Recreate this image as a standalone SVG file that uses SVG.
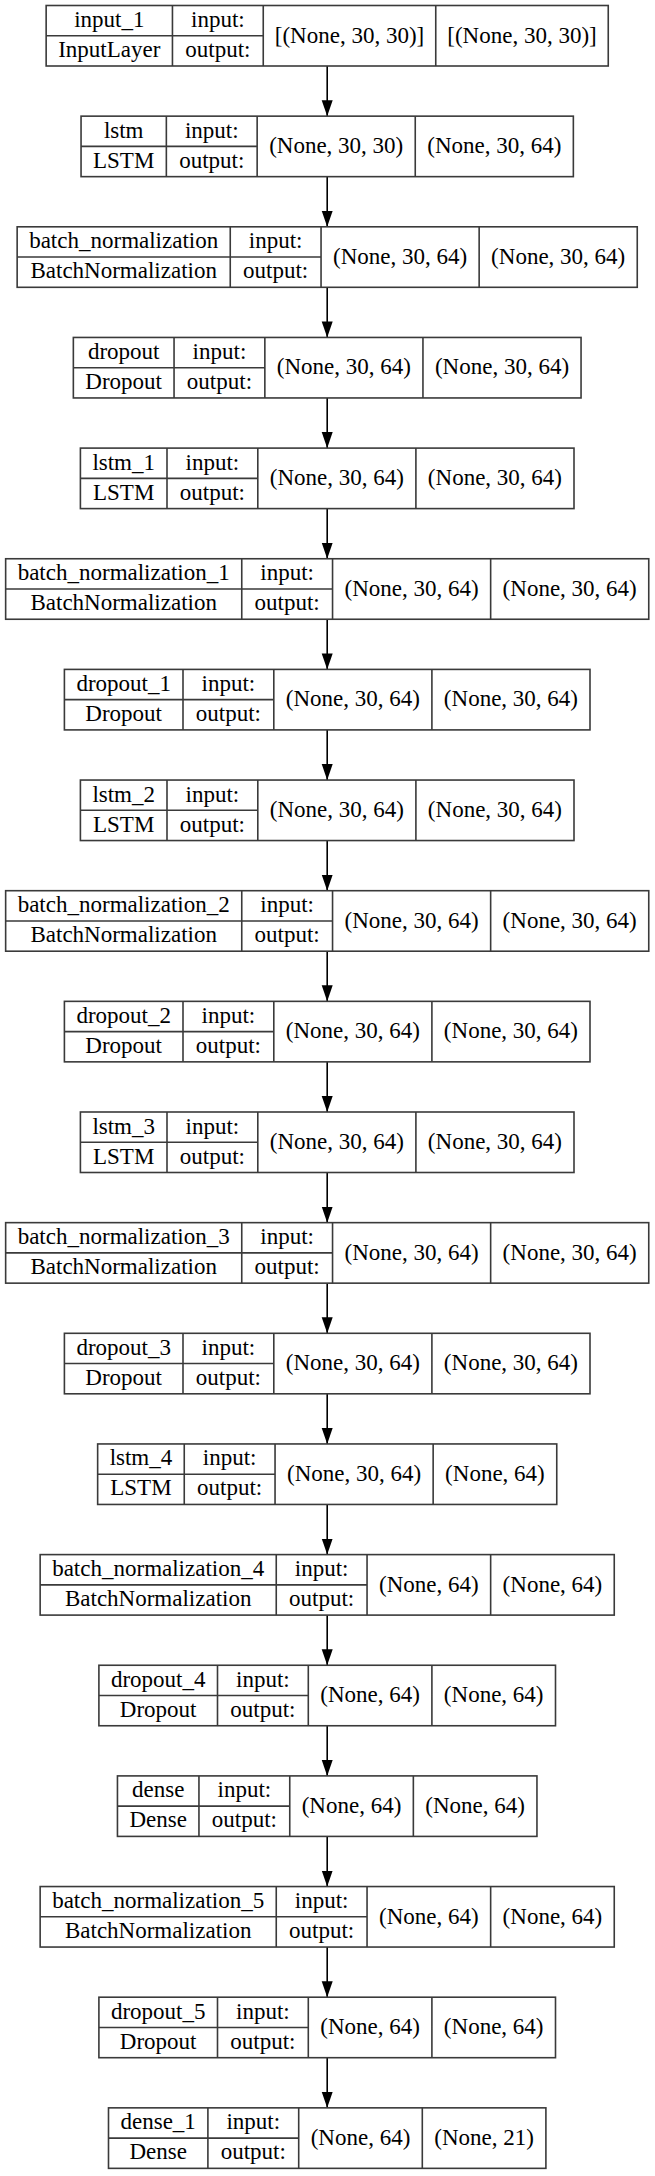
<svg xmlns="http://www.w3.org/2000/svg" width="655" height="2176" viewBox="0 0 655 2176" font-family="'Liberation Serif', 'Times New Roman', Times, serif" font-size="23">
<defs>
<style>
.bx{fill:#fff;stroke:#3a3a3a;stroke-width:1.6}
.ln{stroke:#3a3a3a;stroke-width:1.6;fill:none}
.t{font-family:'Liberation Serif', 'Times New Roman', Times, serif;font-size:23px;text-anchor:middle;fill:#000}
.edge{stroke:#000;stroke-width:1.6;fill:none;marker-end:url(#ah)}
</style>
<marker id="ah" markerUnits="userSpaceOnUse" markerWidth="16" markerHeight="12" refX="16" refY="6" orient="auto"><path d="M0,0.5 L16,6 L0,11.5 z" fill="#000"/></marker>
</defs>
<rect width="655" height="2176" fill="#fff"/>
<g id="connectors">
<path class="edge" d="M327.2,66 V116.15"/>
<path class="edge" d="M327.2,176.65 V226.8"/>
<path class="edge" d="M327.2,287.3 V337.45"/>
<path class="edge" d="M327.2,397.95 V448.1"/>
<path class="edge" d="M327.2,508.6 V558.75"/>
<path class="edge" d="M327.2,619.25 V669.4"/>
<path class="edge" d="M327.2,729.9 V780.05"/>
<path class="edge" d="M327.2,840.55 V890.7"/>
<path class="edge" d="M327.2,951.2 V1001.35"/>
<path class="edge" d="M327.2,1061.85 V1112"/>
<path class="edge" d="M327.2,1172.5 V1222.65"/>
<path class="edge" d="M327.2,1283.15 V1333.3"/>
<path class="edge" d="M327.2,1393.8 V1443.95"/>
<path class="edge" d="M327.2,1504.45 V1554.6"/>
<path class="edge" d="M327.2,1615.1 V1665.25"/>
<path class="edge" d="M327.2,1725.75 V1775.9"/>
<path class="edge" d="M327.2,1836.4 V1886.55"/>
<path class="edge" d="M327.2,1947.05 V1997.2"/>
<path class="edge" d="M327.2,2057.7 V2107.85"/>
</g>
<g id="input_1" transform="translate(46.15,5.5)">
<rect class="bx" x="0" y="0" width="562.1" height="60.5"/>
<path class="ln" d="M0,30.25 H217.1 M126.3,0 V60.5 M217.1,0 V60.5 M389.6,0 V60.5"/>
<text class="t" x="63.15" y="21.5">input_1</text><text class="t" x="63.15" y="51.5">InputLayer</text>
<text class="t" x="171.7" y="21.5">input:</text><text class="t" x="171.7" y="51.5">output:</text>
<text class="t" x="303.35" y="37">[(None, 30, 30)]</text><text class="t" x="475.85" y="37">[(None, 30, 30)]</text>
</g>
<g id="lstm" transform="translate(81.05,116.15)">
<rect class="bx" x="0" y="0" width="492.3" height="60.5"/>
<path class="ln" d="M0,30.25 H176.1 M85.3,0 V60.5 M176.1,0 V60.5 M334.2,0 V60.5"/>
<text class="t" x="42.65" y="21.5">lstm</text><text class="t" x="42.65" y="51.5">LSTM</text>
<text class="t" x="130.7" y="21.5">input:</text><text class="t" x="130.7" y="51.5">output:</text>
<text class="t" x="255.15" y="37">(None, 30, 30)</text><text class="t" x="413.25" y="37">(None, 30, 64)</text>
</g>
<g id="batch_normalization" transform="translate(17.15,226.8)">
<rect class="bx" x="0" y="0" width="620.1" height="60.5"/>
<path class="ln" d="M0,30.25 H303.9 M213.1,0 V60.5 M303.9,0 V60.5 M462,0 V60.5"/>
<text class="t" x="106.55" y="21.5">batch_normalization</text><text class="t" x="106.55" y="51.5">BatchNormalization</text>
<text class="t" x="258.5" y="21.5">input:</text><text class="t" x="258.5" y="51.5">output:</text>
<text class="t" x="382.95" y="37">(None, 30, 64)</text><text class="t" x="541.05" y="37">(None, 30, 64)</text>
</g>
<g id="dropout" transform="translate(73.35,337.45)">
<rect class="bx" x="0" y="0" width="507.7" height="60.5"/>
<path class="ln" d="M0,30.25 H191.5 M100.7,0 V60.5 M191.5,0 V60.5 M349.6,0 V60.5"/>
<text class="t" x="50.35" y="21.5">dropout</text><text class="t" x="50.35" y="51.5">Dropout</text>
<text class="t" x="146.1" y="21.5">input:</text><text class="t" x="146.1" y="51.5">output:</text>
<text class="t" x="270.55" y="37">(None, 30, 64)</text><text class="t" x="428.65" y="37">(None, 30, 64)</text>
</g>
<g id="lstm_1" transform="translate(80.4,448.1)">
<rect class="bx" x="0" y="0" width="493.6" height="60.5"/>
<path class="ln" d="M0,30.25 H177.4 M86.6,0 V60.5 M177.4,0 V60.5 M335.5,0 V60.5"/>
<text class="t" x="43.3" y="21.5">lstm_1</text><text class="t" x="43.3" y="51.5">LSTM</text>
<text class="t" x="132" y="21.5">input:</text><text class="t" x="132" y="51.5">output:</text>
<text class="t" x="256.45" y="37">(None, 30, 64)</text><text class="t" x="414.55" y="37">(None, 30, 64)</text>
</g>
<g id="batch_normalization_1" transform="translate(5.65,558.75)">
<rect class="bx" x="0" y="0" width="643.1" height="60.5"/>
<path class="ln" d="M0,30.25 H326.9 M236.1,0 V60.5 M326.9,0 V60.5 M485,0 V60.5"/>
<text class="t" x="118.05" y="21.5">batch_normalization_1</text><text class="t" x="118.05" y="51.5">BatchNormalization</text>
<text class="t" x="281.5" y="21.5">input:</text><text class="t" x="281.5" y="51.5">output:</text>
<text class="t" x="405.95" y="37">(None, 30, 64)</text><text class="t" x="564.05" y="37">(None, 30, 64)</text>
</g>
<g id="dropout_1" transform="translate(64.4,669.4)">
<rect class="bx" x="0" y="0" width="525.6" height="60.5"/>
<path class="ln" d="M0,30.25 H209.4 M118.6,0 V60.5 M209.4,0 V60.5 M367.5,0 V60.5"/>
<text class="t" x="59.3" y="21.5">dropout_1</text><text class="t" x="59.3" y="51.5">Dropout</text>
<text class="t" x="164" y="21.5">input:</text><text class="t" x="164" y="51.5">output:</text>
<text class="t" x="288.45" y="37">(None, 30, 64)</text><text class="t" x="446.55" y="37">(None, 30, 64)</text>
</g>
<g id="lstm_2" transform="translate(80.4,780.05)">
<rect class="bx" x="0" y="0" width="493.6" height="60.5"/>
<path class="ln" d="M0,30.25 H177.4 M86.6,0 V60.5 M177.4,0 V60.5 M335.5,0 V60.5"/>
<text class="t" x="43.3" y="21.5">lstm_2</text><text class="t" x="43.3" y="51.5">LSTM</text>
<text class="t" x="132" y="21.5">input:</text><text class="t" x="132" y="51.5">output:</text>
<text class="t" x="256.45" y="37">(None, 30, 64)</text><text class="t" x="414.55" y="37">(None, 30, 64)</text>
</g>
<g id="batch_normalization_2" transform="translate(5.65,890.7)">
<rect class="bx" x="0" y="0" width="643.1" height="60.5"/>
<path class="ln" d="M0,30.25 H326.9 M236.1,0 V60.5 M326.9,0 V60.5 M485,0 V60.5"/>
<text class="t" x="118.05" y="21.5">batch_normalization_2</text><text class="t" x="118.05" y="51.5">BatchNormalization</text>
<text class="t" x="281.5" y="21.5">input:</text><text class="t" x="281.5" y="51.5">output:</text>
<text class="t" x="405.95" y="37">(None, 30, 64)</text><text class="t" x="564.05" y="37">(None, 30, 64)</text>
</g>
<g id="dropout_2" transform="translate(64.4,1001.35)">
<rect class="bx" x="0" y="0" width="525.6" height="60.5"/>
<path class="ln" d="M0,30.25 H209.4 M118.6,0 V60.5 M209.4,0 V60.5 M367.5,0 V60.5"/>
<text class="t" x="59.3" y="21.5">dropout_2</text><text class="t" x="59.3" y="51.5">Dropout</text>
<text class="t" x="164" y="21.5">input:</text><text class="t" x="164" y="51.5">output:</text>
<text class="t" x="288.45" y="37">(None, 30, 64)</text><text class="t" x="446.55" y="37">(None, 30, 64)</text>
</g>
<g id="lstm_3" transform="translate(80.4,1112)">
<rect class="bx" x="0" y="0" width="493.6" height="60.5"/>
<path class="ln" d="M0,30.25 H177.4 M86.6,0 V60.5 M177.4,0 V60.5 M335.5,0 V60.5"/>
<text class="t" x="43.3" y="21.5">lstm_3</text><text class="t" x="43.3" y="51.5">LSTM</text>
<text class="t" x="132" y="21.5">input:</text><text class="t" x="132" y="51.5">output:</text>
<text class="t" x="256.45" y="37">(None, 30, 64)</text><text class="t" x="414.55" y="37">(None, 30, 64)</text>
</g>
<g id="batch_normalization_3" transform="translate(5.65,1222.65)">
<rect class="bx" x="0" y="0" width="643.1" height="60.5"/>
<path class="ln" d="M0,30.25 H326.9 M236.1,0 V60.5 M326.9,0 V60.5 M485,0 V60.5"/>
<text class="t" x="118.05" y="21.5">batch_normalization_3</text><text class="t" x="118.05" y="51.5">BatchNormalization</text>
<text class="t" x="281.5" y="21.5">input:</text><text class="t" x="281.5" y="51.5">output:</text>
<text class="t" x="405.95" y="37">(None, 30, 64)</text><text class="t" x="564.05" y="37">(None, 30, 64)</text>
</g>
<g id="dropout_3" transform="translate(64.4,1333.3)">
<rect class="bx" x="0" y="0" width="525.6" height="60.5"/>
<path class="ln" d="M0,30.25 H209.4 M118.6,0 V60.5 M209.4,0 V60.5 M367.5,0 V60.5"/>
<text class="t" x="59.3" y="21.5">dropout_3</text><text class="t" x="59.3" y="51.5">Dropout</text>
<text class="t" x="164" y="21.5">input:</text><text class="t" x="164" y="51.5">output:</text>
<text class="t" x="288.45" y="37">(None, 30, 64)</text><text class="t" x="446.55" y="37">(None, 30, 64)</text>
</g>
<g id="lstm_4" transform="translate(97.65,1443.95)">
<rect class="bx" x="0" y="0" width="459.1" height="60.5"/>
<path class="ln" d="M0,30.25 H177.4 M86.6,0 V60.5 M177.4,0 V60.5 M335.5,0 V60.5"/>
<text class="t" x="43.3" y="21.5">lstm_4</text><text class="t" x="43.3" y="51.5">LSTM</text>
<text class="t" x="132" y="21.5">input:</text><text class="t" x="132" y="51.5">output:</text>
<text class="t" x="256.45" y="37">(None, 30, 64)</text><text class="t" x="397.3" y="37">(None, 64)</text>
</g>
<g id="batch_normalization_4" transform="translate(40.15,1554.6)">
<rect class="bx" x="0" y="0" width="574.1" height="60.5"/>
<path class="ln" d="M0,30.25 H326.9 M236.1,0 V60.5 M326.9,0 V60.5 M450.5,0 V60.5"/>
<text class="t" x="118.05" y="21.5">batch_normalization_4</text><text class="t" x="118.05" y="51.5">BatchNormalization</text>
<text class="t" x="281.5" y="21.5">input:</text><text class="t" x="281.5" y="51.5">output:</text>
<text class="t" x="388.7" y="37">(None, 64)</text><text class="t" x="512.3" y="37">(None, 64)</text>
</g>
<g id="dropout_4" transform="translate(98.9,1665.25)">
<rect class="bx" x="0" y="0" width="456.6" height="60.5"/>
<path class="ln" d="M0,30.25 H209.4 M118.6,0 V60.5 M209.4,0 V60.5 M333,0 V60.5"/>
<text class="t" x="59.3" y="21.5">dropout_4</text><text class="t" x="59.3" y="51.5">Dropout</text>
<text class="t" x="164" y="21.5">input:</text><text class="t" x="164" y="51.5">output:</text>
<text class="t" x="271.2" y="37">(None, 64)</text><text class="t" x="394.8" y="37">(None, 64)</text>
</g>
<g id="dense" transform="translate(117.45,1775.9)">
<rect class="bx" x="0" y="0" width="419.5" height="60.5"/>
<path class="ln" d="M0,30.25 H172.3 M81.5,0 V60.5 M172.3,0 V60.5 M295.9,0 V60.5"/>
<text class="t" x="40.75" y="21.5">dense</text><text class="t" x="40.75" y="51.5">Dense</text>
<text class="t" x="126.9" y="21.5">input:</text><text class="t" x="126.9" y="51.5">output:</text>
<text class="t" x="234.1" y="37">(None, 64)</text><text class="t" x="357.7" y="37">(None, 64)</text>
</g>
<g id="batch_normalization_5" transform="translate(40.15,1886.55)">
<rect class="bx" x="0" y="0" width="574.1" height="60.5"/>
<path class="ln" d="M0,30.25 H326.9 M236.1,0 V60.5 M326.9,0 V60.5 M450.5,0 V60.5"/>
<text class="t" x="118.05" y="21.5">batch_normalization_5</text><text class="t" x="118.05" y="51.5">BatchNormalization</text>
<text class="t" x="281.5" y="21.5">input:</text><text class="t" x="281.5" y="51.5">output:</text>
<text class="t" x="388.7" y="37">(None, 64)</text><text class="t" x="512.3" y="37">(None, 64)</text>
</g>
<g id="dropout_5" transform="translate(98.9,1997.2)">
<rect class="bx" x="0" y="0" width="456.6" height="60.5"/>
<path class="ln" d="M0,30.25 H209.4 M118.6,0 V60.5 M209.4,0 V60.5 M333,0 V60.5"/>
<text class="t" x="59.3" y="21.5">dropout_5</text><text class="t" x="59.3" y="51.5">Dropout</text>
<text class="t" x="164" y="21.5">input:</text><text class="t" x="164" y="51.5">output:</text>
<text class="t" x="271.2" y="37">(None, 64)</text><text class="t" x="394.8" y="37">(None, 64)</text>
</g>
<g id="dense_1" transform="translate(108.5,2107.85)">
<rect class="bx" x="0" y="0" width="437.4" height="60.5"/>
<path class="ln" d="M0,30.25 H190.2 M99.4,0 V60.5 M190.2,0 V60.5 M313.8,0 V60.5"/>
<text class="t" x="49.7" y="21.5">dense_1</text><text class="t" x="49.7" y="51.5">Dense</text>
<text class="t" x="144.8" y="21.5">input:</text><text class="t" x="144.8" y="51.5">output:</text>
<text class="t" x="252" y="37">(None, 64)</text><text class="t" x="375.6" y="37">(None, 21)</text>
</g>
</svg>
